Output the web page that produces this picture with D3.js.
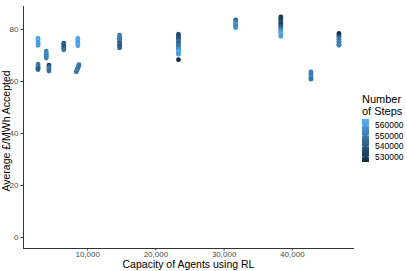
<!DOCTYPE html>
<html><head><meta charset="utf-8">
<script src="https://cdn.jsdelivr.net/npm/d3@7"></script>
<style>body{margin:0;background:#fff}svg{display:block;font-family:"Liberation Sans",Arial,sans-serif}</style>
</head><body><svg id="c" width="407" height="271"></svg>
<script>
// capacity (MW) of agents using RL, per point
const capacity = [
 2800,2800,2800,2800,2800,2800,
 2800,2800,2800,2800,2800,
 4000,4000,4000,4000,4000,4000,
 4400,4400,4400,4400,4400,
 6570,6570,6570,6570,6570,
 8630,8630,8630,8630,8630,8630,
 8800,8750,8650,8550,8450,8400,
 14750,14750,14750,14750,14750,14750,14750,14750,14750,
 23380,23380,23380,23380,23380,23380,23380,23380,23380,23380,23380,23380,23380,23380,23380,
 31760,31760,31760,31760,31760,31760,
 38380,38380,38380,38380,38380,38380,38380,38380,38380,38380,38380,38380,38380,
 42800,42800,42800,42800,42800,42800,
 46900,46900,46900,46900,46900,46900,46900,46900,46900
];
const price = [
 76.5,76.0,75.4,74.8,74.2,73.7,
 66.5,65.9,65.3,64.8,64.4,
 71.5,70.9,70.3,69.7,69.2,68.8,
 66.1,65.6,65.0,64.4,63.8,
 74.5,73.9,73.3,72.6,72.0,
 76.5,75.9,75.3,74.7,74.1,73.5,
 66.3,65.7,65.1,64.5,63.9,63.5,
 77.6,77.0,76.4,75.8,75.2,74.6,74.0,73.4,72.7,
 78.0,77.4,76.8,76.2,75.6,75.0,74.4,73.8,73.2,72.6,72.0,71.5,70.9,70.3,68.2,
 83.5,82.9,82.3,81.7,81.1,80.5,
 84.6,84.0,83.4,82.8,82.2,81.6,81.0,80.4,79.8,79.2,78.6,77.9,77.2,
 63.5,62.9,62.3,61.7,61.1,60.7,
 78.3,77.7,77.1,76.5,75.9,75.3,74.7,74.1,73.7
];
const steps = [
 564000,561000,566000,559000,563000,558000,
 552000,548000,550000,545000,542000,
 555000,552000,558000,550000,556000,553000,
 530000,540000,548000,551000,546000,
 540000,545000,538000,543000,547000,
 566000,562000,564000,560000,565000,563000,
 550000,548000,552000,546000,555000,550000,
 545000,555000,550000,548000,552000,540000,546000,538000,544000,
 538000,534000,540000,536000,545000,548000,542000,550000,546000,552000,558000,563000,565000,560000,525000,
 540000,550000,555000,558000,552000,556000,
 528000,533000,530000,538000,535000,532000,540000,545000,550000,558000,562000,565000,560000,
 550000,553000,548000,555000,551000,549000,
 526000,528000,535000,548000,552000,550000,555000,549000,553000
];
const xTicks = [10000,20000,30000,40000];
const yTicks = [0,20,40,60,80];
const legendTicks = [530000,540000,550000,560000];

const svg = d3.select("#c");
const L=23,R=354,T=6,B=248;
const xmin=d3.min(capacity), xmax=d3.max(capacity);
const xpad=(xmax-xmin)*0.05;
const x=d3.scaleLinear().domain([xmin-xpad,xmax+xpad]).range([L,R]);
const ymax=d3.max(price), ypad=ymax*0.05;
const y=d3.scaleLinear().domain([-ypad,ymax+ypad]).range([B,T]);
const smin=d3.min(steps), smax=d3.max(steps);
const col=d3.scaleLinear().domain([smin,smax]).range(["#132B43","#56B1F7"]).interpolate(d3.interpolateLab);

const pts=d3.range(capacity.length);
svg.append("g").selectAll("circle").data(pts).join("circle")
  .attr("cx",i=>x(capacity[i])).attr("cy",i=>y(price[i])).attr("r",2.4)
  .attr("fill",i=>col(steps[i]));

const fmt=d3.format(",");
const xa=svg.append("g").attr("transform",`translate(0,${B})`)
  .call(d3.axisBottom(x).tickValues(xTicks).tickFormat(fmt).tickSize(2.5).tickPadding(1));
const ya=svg.append("g").attr("transform",`translate(${L},0)`)
  .call(d3.axisLeft(y).tickValues(yTicks).tickSize(2.5).tickPadding(2));
[xa,ya].forEach(a=>{
  a.select(".domain").attr("stroke","#333").attr("stroke-width",1);
  a.selectAll(".tick line").attr("stroke","#333");
  a.selectAll(".tick text").attr("fill","#4D4D4D").style("font-size","8px").style("font-family","Liberation Sans, Arial, sans-serif");
});
xa.select(".domain").attr("d",`M${L},0.5H${R}`);
ya.select(".domain").attr("d",`M0.5,${B}V${T}`);

svg.append("text").attr("x",(L+R)/2).attr("y",268.3).attr("text-anchor","middle")
  .style("font-size","10.5px").attr("fill","#000").text("Capacity of Agents using RL");
svg.append("text").attr("transform",`translate(9.5,131) rotate(-90)`).attr("text-anchor","middle")
  .style("font-size","10.5px").attr("fill","#000").text("Average £/MWh Accepted");

// legend
const lg=svg.append("g");
lg.append("text").attr("x",362).attr("y",103).style("font-size","11px").text("Number");
lg.append("text").attr("x",362).attr("y",115).style("font-size","11px").text("of Steps");
const bx=362,bw=7,btop=119,bbot=162;
const ls=d3.scaleLinear().domain([smin,smax]).range([bbot,btop]);
const defs=svg.append("defs");
const gr=defs.append("linearGradient").attr("id","g").attr("x1",0).attr("y1",1).attr("x2",0).attr("y2",0);
d3.range(0,1.0001,0.1).forEach(t=>gr.append("stop").attr("offset",t).attr("stop-color",col(smin+t*(smax-smin))));
lg.append("rect").attr("x",bx).attr("y",btop).attr("width",bw).attr("height",bbot-btop).attr("fill","url(#g)");
legendTicks.forEach(v=>{
  const yy=ls(v);
  lg.append("line").attr("x1",bx).attr("x2",bx+1.5).attr("y1",yy).attr("y2",yy).attr("stroke","#fff").attr("stroke-width",0.6);
  lg.append("line").attr("x1",bx+bw-1.5).attr("x2",bx+bw).attr("y1",yy).attr("y2",yy).attr("stroke","#fff").attr("stroke-width",0.6);
  lg.append("text").attr("x",375).attr("y",yy+3).style("font-size","8.5px").attr("fill","#000").text(v);
});
</script></body></html>
